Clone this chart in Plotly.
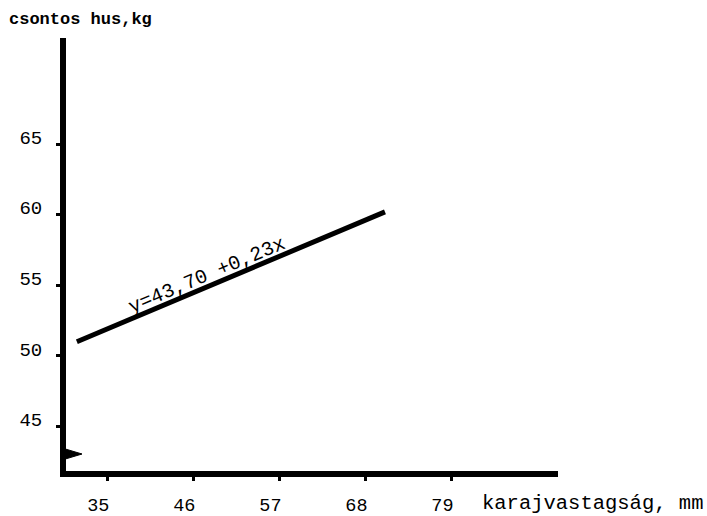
import plotly.graph_objects as go

# data
line_x = [31.1, 70.5]
line_y = [51.0, 60.2]
x_ticks = [35, 46, 57, 68, 79]
y_ticks = [45, 50, 55, 60, 65]
equation = "y=43,70 +0,23x"
x_title = "karajvastagság, mm"
y_title = "csontos hus,kg"

FONT = "Liberation Mono, Courier New, monospace"
W, H = 707, 516
L, R, T, B = 66, 558, 38, 471

def px(x):
    return (x - L) / (R - L)

def py(y):
    return (B - y) / (B - T)

fig = go.Figure()
fig.add_trace(go.Scatter(x=line_x, y=line_y, mode="lines",
                         line=dict(color="black", width=5),
                         hoverinfo="skip", showlegend=False))

fig.update_layout(
    template="none",
    width=W, height=H,
    margin=dict(l=L, r=W - R, t=T, b=H - B, autoexpand=False),
    paper_bgcolor="white", plot_bgcolor="white",
    showlegend=False,
    font=dict(family=FONT, color="black"),
    xaxis=dict(range=[29.71, 92.63], tickvals=x_ticks, ticktext=[str(v) for v in x_ticks],
               automargin=False,
               showgrid=False, zeroline=False, showline=True, linecolor="black",
               linewidth=6, ticks="outside", ticklen=4, tickwidth=3, tickcolor="black",
               tickfont=dict(family=FONT, size=18.5), ticklabelshift=-9, ticklabelstandoff=8),
    yaxis=dict(range=[41.85, 72.51], tickvals=y_ticks, ticktext=[str(v) for v in y_ticks],
               automargin=False,
               showgrid=False, zeroline=False, showline=True, linecolor="black",
               linewidth=6, ticks="outside", ticklen=4, tickwidth=3, tickcolor="black",
               tickfont=dict(family=FONT, size=19), ticklabelshift=-7, ticklabelstandoff=10),
)

# equation label along the line
fig.add_annotation(x=47.7, y=55.69, xref="x", yref="y", text=equation, showarrow=False,
                   textangle=-22.9, font=dict(family=FONT, size=20, color="black"))

# axis titles
fig.add_annotation(x=px(7), y=py(20), xref="paper", yref="paper", xanchor="left",
                   yanchor="middle", text="<b>" + y_title + "</b>", showarrow=False,
                   font=dict(family=FONT, size=17, color="black"))
fig.add_annotation(x=px(480), y=py(504), xref="paper", yref="paper", xanchor="left",
                   yanchor="middle", text=x_title, showarrow=False,
                   font=dict(family=FONT, size=20.5, color="black"))

# axis break mark at the bottom of the y axis
fig.add_shape(type="path", xref="paper", yref="paper", layer="above",
              path=f"M {px(62)},{py(448)} L {px(82)},{py(454)} L {px(62)},{py(460)} Z",
              fillcolor="black", line=dict(color="black", width=1))

fig.write_html("out.html", config={"displayModeBar": False},
               post_script="document.body.style.margin='0';document.body.style.overflow='hidden';")
